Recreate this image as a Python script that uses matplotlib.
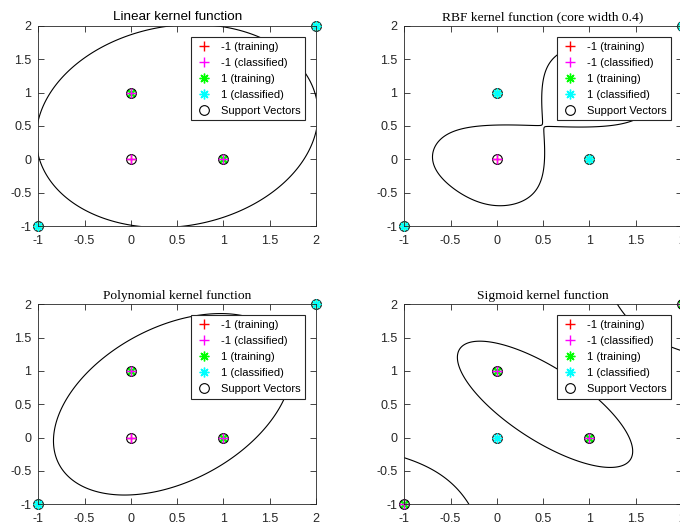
import numpy as np
import matplotlib
matplotlib.use('Agg')
import matplotlib.pyplot as plt
from matplotlib.ticker import FormatStrFormatter

plt.rcParams['font.family'] = ['Liberation Sans', 'DejaVu Sans']

# training points and their labels
pts_x = np.array([-1, 0, 0, 1, 2])
pts_y = np.array([-1, 0, 1, 0, 2])
train_label = np.array([1, -1, 1, 1, 1])

titles = ['Linear kernel function', 'RBF kernel function (core width 0.4)',
          'Polynomial kernel function', 'Sigmoid kernel function']
title_fonts = ['Liberation Sans', 'Liberation Serif', 'Liberation Serif', 'Liberation Serif']

# result of classifying the same points with each kernel
classified_linear = np.array([1, -1, -1, -1, 1])
classified_rbf = np.array([1, -1, 1, 1, 1])
classified_poly = np.array([1, -1, -1, -1, 1])
classified_sigmoid = np.array([-1, 1, -1, -1, -1])

# decision boundaries: centre x, centre y, semi axis a, semi axis b, angle
linear_ellipse = [0.5, 0.5, 1.61, 1.43, 45]
poly_ellipse = [0.45, 0.5, 1.57, 1.02, 49]
sigmoid_ellipse = [0.52, 0.5, 1.25, 0.48, -45]
sigmoid_hyperbola = [0.5, 0.5, 1.53, 1.36, 45]

# rbf decision function: kernel centres, weights, bias
rbf_cx = [0, 1, 0, 1, -1, 2]
rbf_cy = [0, 1, 1, 0, -1, 2]
rbf_w = [-1.0, -1.0, 0.52, 0.52, 0.5, 0.5]
rbf_bias = 0.2
rbf_sigma = 0.4

ASTERISK = (8, 2, 0)  # matlab style '*'


def conic(xx, yy, p, sign=1):
    cx, cy, a, b, ang = p
    th = np.deg2rad(ang)
    s = (xx - cx) * np.cos(th) + (yy - cy) * np.sin(th)
    t = -(xx - cx) * np.sin(th) + (yy - cy) * np.cos(th)
    return (s / a) ** 2 + sign * (t / b) ** 2 - 1


def rbf_field(xx, yy):
    f = np.full_like(xx, rbf_bias)
    for cx, cy, w in zip(rbf_cx, rbf_cy, rbf_w):
        f += w * np.exp(-((xx - cx) ** 2 + (yy - cy) ** 2) / (2 * rbf_sigma ** 2))
    return f


def draw_points(ax, classified):
    h = {}
    neg = train_label == -1
    h['tn'], = ax.plot(pts_x[neg], pts_y[neg], '+', color=(1, 0, 0), ms=7, mew=1, clip_on=False)
    h['tp'], = ax.plot(pts_x[~neg], pts_y[~neg], marker=ASTERISK, ls='none', color=(0, 1, 0),
                       ms=7, mew=1, clip_on=False)
    h['sv'], = ax.plot(pts_x, pts_y, 'o', mfc='none', mec='k', ms=7, mew=0.8, clip_on=False)
    cn = classified == -1
    h['cn'], = ax.plot(pts_x[cn], pts_y[cn], '+', color=(1, 0, 1), ms=7, mew=1, clip_on=False)
    h['cp'], = ax.plot(pts_x[~cn], pts_y[~cn], marker=ASTERISK, ls='none', color=(0, 1, 1),
                       ms=7, mew=1, clip_on=False)
    leg = ax.legend([h['tn'], h['cn'], h['tp'], h['cp'], h['sv']],
                    ['-1 (training)', '-1 (classified)', '1 (training)', '1 (classified)', 'Support Vectors'],
                    loc='upper right', fontsize=8, fancybox=False, framealpha=1, edgecolor='#262626',
                    borderaxespad=1.0, handlelength=1.5, handletextpad=0.8, labelspacing=0.55,
                    borderpad=0.4)
    leg.get_frame().set_linewidth(0.8)


fig = plt.figure(figsize=(6.8, 5.25), dpi=100)
positions = [[0.0563, 0.5695, 0.4084, 0.381], [0.5946, 0.5695, 0.4084, 0.381],
             [0.0563, 0.0394, 0.4084, 0.381], [0.5946, 0.0394, 0.4084, 0.381]]
classified_all = [classified_linear, classified_rbf, classified_poly, classified_sigmoid]

gx = np.linspace(-1.1, 2.1, 500)
xx, yy = np.meshgrid(gx, gx)

for k in range(4):
    ax = fig.add_axes(positions[k])
    if k == 0:
        ax.contour(xx, yy, conic(xx, yy, linear_ellipse), levels=[0], colors='k', linewidths=0.8)
    elif k == 1:
        ax.contour(xx, yy, rbf_field(xx, yy), levels=[0], colors='k', linewidths=0.8)
    elif k == 2:
        ax.contour(xx, yy, conic(xx, yy, poly_ellipse), levels=[0], colors='k', linewidths=0.8)
    else:
        ax.contour(xx, yy, conic(xx, yy, sigmoid_ellipse), levels=[0], colors='k', linewidths=0.8)
        ax.contour(xx, yy, conic(xx, yy, sigmoid_hyperbola, -1), levels=[0], colors='k', linewidths=0.8)
    draw_points(ax, classified_all[k])
    ax.set_xlim(-1, 2)
    ax.set_ylim(-1, 2)
    ax.set_xticks(np.arange(-1, 2.01, 0.5))
    ax.set_yticks(np.arange(-1, 2.01, 0.5))
    ax.xaxis.set_major_formatter(FormatStrFormatter('%g'))
    ax.yaxis.set_major_formatter(FormatStrFormatter('%g'))
    ax.tick_params(direction='in', top=True, right=True, length=4, width=0.6,
                   labelsize=9, colors='#262626')
    ax.tick_params(axis='x', pad=6.5)
    ax.tick_params(axis='y', pad=5)
    for sp in ax.spines.values():
        sp.set_color('#262626')
        sp.set_linewidth(0.6)
    ax.set_title(titles[k], fontsize=9.7, family=title_fonts[k], pad=4)

fig.savefig('out.png', dpi=100)
